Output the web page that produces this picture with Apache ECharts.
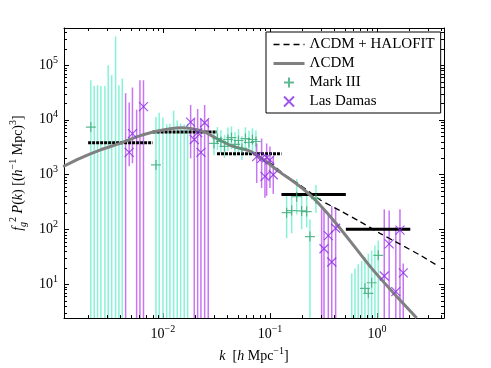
<!DOCTYPE html>
<html lang="en">
<head>
<meta charset="UTF-8">
<title>P(k)</title>
<script src="https://cdn.jsdelivr.net/npm/echarts@6/dist/echarts.min.js"></script>
<style>
    html, body { margin: 0; padding: 0; background: #fff; }
    #main { width: 491px; height: 368px; }
</style>
</head>
<body>
<div id="main"></div>
<script>
// axis ranges
var xMin = 0.00119, xMax = 4.23;
var yMin = 2.4, yMax = 474000;

// model curves
var lcdmK = [0.00117, 0.001675, 0.002576, 0.003963, 0.005675, 0.008111, 0.01162, 0.01505, 0.0199, 0.0247, 0.0318, 0.0451, 0.065, 0.0861, 0.1239, 0.178, 0.22, 0.281, 0.423, 0.622, 0.918, 1.47, 2.35];
var lcdmP = [1406, 1980, 2800, 3700, 4880, 6000, 6890, 7180, 6740, 5960, 4550, 3270, 2690, 1900, 1110, 675, 484, 306, 123, 47.4, 18.2, 6.47, 2.42];
var halofitK = [0.00117, 0.001675, 0.002576, 0.003963, 0.005675, 0.008111, 0.01162, 0.01505, 0.0199, 0.0247, 0.0318, 0.0451, 0.065, 0.0861, 0.1045, 0.138, 0.191, 0.293, 0.451, 0.693, 1.067, 1.641, 2.52, 3.72];
var halofitP = [1406, 1980, 2800, 3700, 4880, 6000, 6890, 7180, 6740, 5960, 4550, 3270, 2690, 1900, 1545, 980, 647, 348, 220, 139, 84.7, 53.7, 34.0, 21.5];

// band powers
var binEdges = [0.002, 0.008, 0.032, 0.128, 0.512, 2.048];
var binPower = [3800, 6000, 2410, 432, 101];
var binDotted = [true, true, true, false, false];

// Mark III (null = centre below the plot)
var mk3K  = [0.00212, 0.00228, 0.00245, 0.00263, 0.00287, 0.00308, 0.00332, 0.00361, 0.00388, 0.00417,
             0.00861, 0.00923, 0.01, 0.01083, 0.01162, 0.01259, 0.0136, 0.01463, 0.01581, 0.01702,
             0.03, 0.0323, 0.0348, 0.0376, 0.0405, 0.0437, 0.0471, 0.0508, 0.0547, 0.059, 0.0636, 0.0686, 0.074,
             0.1432, 0.1596, 0.1778, 0.1978, 0.2203, 0.2364, 0.269,
             0.581, 0.623, 0.668, 0.72, 0.772, 0.83, 0.892, 0.957, 1.028];
var mk3P  = [7380, null, null, null, null, null, null, null, null, null,
             1500, null, null, null, null, null, null, null, null, null,
             3700, 4550, 4020, 3270, 4370, 4740, 3550, 4190, 3000, 4550, 3850, 4370, 4020,
             202, 220, 394, 217, 211, 74, 362,
             null, null, null, null, 8.4, 6.8, 10.6, null, 33.6];
var mk3Lo = [1, 1, 1, 1, 1, 1, 1, 1, 1, 1,
             1, 1, 1, 1, 1, 1, 1, 1, 1, 1,
             2250, 2800, 2450, 2000, 2700, 2900, 2150, 2600, 1850, 2800, 2350, 2700, 2450,
             69, 85, 186, 100, 109, 1, 202,
             1, 1, 1, 1, 1, 1, 1, 1, 1];
var mk3Hi = [52600, 41500, 42800, 41500, 41500, 99000, 65000, 330000, 42800, 57000,
             11300, 13500, 11000, 8300, 8470, 14700, 9700, 8580, 8300, 8470,
             6100, 7400, 6500, 5300, 7200, 7600, 5900, 6800, 5000, 7300, 6300, 7000, 6400,
             464, 447, 830, 464, 410, 151, 647,
             15.7, 19.3, 23.1, 26.5, 31.3, 35.9, 41.3, 50.8, 62.5];

// Las Damas
var ldK  = [0.00448, 0.00484, 0.00519, 0.00568, 0.0061, 0.00658,
            0.01815, 0.01963, 0.0211, 0.02265, 0.02453, 0.0265,
            0.0752, 0.0836, 0.0898, 0.0931, 0.1, 0.1074,
            0.304, 0.32, 0.351, 0.378, 0.411,
            1.17, 1.3, 1.5, 1.64, 1.76];
var ldP  = [null, 2540, 5590, null, null, 17400,
            9090, 4370, 5840, 2540, 8830, null,
            2130, 1980, 929, 2040, 1850, 991,
            null, 44.2, 76.9, 25.4, 105,
            14.1, 54.3, 7.3, 97, 16.1];
var ldLo = [1, 1420, 1610, 1, 1, 1,
            1980, 1, 1, 1, 1, 1,
            703, 571, 378, 410, 571, 445,
            1, 1, 1, 1, 1,
            1, 1, 1, 1, 1];
var ldHi = [30600, 20800, 38800, 15300, 52600, 52600,
            18600, 10400, 15800, 10400, 18600, 10000,
            3700, 4550, 1980, 3700, 3270, 2150,
            267, 232, 189, 267, 249,
            232, 220, 109, 232, 23.7];

var serif = 'Liberation Serif, DejaVu Serif, serif';
var plusPath = 'path://M0,5L10,5M5,0L5,10';
var crossPath = 'path://M0,0L10,10M10,0L0,10';

function pairs(a, b) {
    var out = [];
    for (var i = 0; i < a.length; i++) {
        if (b[i] != null) out.push([a[i], b[i]]);
    }
    return out;
}

function powLabel(v) {
    var e = Math.log10(v);
    var r = Math.round(e);
    if (Math.abs(e - r) > 1e-6) return '';
    return '{b|10}{s|' + (r < 0 ? '\u2212' + (-r) : r) + '}';
}

var labelRich = {
    b: { fontFamily: serif, fontSize: 14, color: '#000', lineHeight: 20 },
    s: { fontFamily: serif, fontSize: 10, color: '#000', lineHeight: 10, verticalAlign: 'top' }
};
var nameRich = {
    i: { fontFamily: serif, fontSize: 14, fontStyle: 'italic', color: '#000', lineHeight: 20 },
    sup: { fontFamily: serif, fontSize: 10, color: '#000', lineHeight: 10, verticalAlign: 'top' },
    sub: { fontFamily: serif, fontSize: 10, fontStyle: 'italic', color: '#000', lineHeight: 10, verticalAlign: 'bottom' }
};

function errBars(ks, los, his, color) {
    var data = [];
    for (var i = 0; i < ks.length; i++) data.push([ks[i], los[i], his[i]]);
    return {
        type: 'custom', clip: true, silent: true, z: 1,
        encode: { x: 0, y: [1, 2] },
        data: data,
        renderItem: function (params, api) {
            var p1 = api.coord([api.value(0), api.value(1)]);
            var p2 = api.coord([api.value(0), api.value(2)]);
            return { type: 'line', shape: { x1: p1[0], y1: p1[1], x2: p2[0], y2: p2[1] },
                     style: { stroke: color, lineWidth: 1.5 } };
        }
    };
}

// minor tick positions (2..9 per decade)
var xMinor = [], yMinor = [];
for (var d = -3; d <= 0; d++) for (var m = 2; m <= 9; m++) {
    var v = m * Math.pow(10, d);
    if (v > xMin && v < xMax) xMinor.push([v, yMax]);
}
for (var d2 = 0; d2 <= 5; d2++) for (var m2 = 2; m2 <= 9; m2++) {
    var w = m2 * Math.pow(10, d2);
    if (w > yMin && w < yMax) yMinor.push([xMin, w]);
}

function minorTicks(data, horiz) {
    return {
        type: 'custom', silent: true, z: 6, data: data,
        renderItem: function (params, api) {
            var cs = params.coordSys;
            var p = api.coord([api.value(0), api.value(1)]);
            var st = { stroke: '#000', lineWidth: 1 };
            if (horiz) {
                var x = Math.round(p[0]) + 0.5, b = cs.y + cs.height, t = cs.y;
                return { type: 'group', children: [
                    { type: 'line', shape: { x1: x, y1: b, x2: x, y2: b - 3 }, style: st },
                    { type: 'line', shape: { x1: x, y1: t, x2: x, y2: t + 3 }, style: st }
                ] };
            }
            var y = Math.round(p[1]) + 0.5, l = cs.x, r = cs.x + cs.width;
            return { type: 'group', children: [
                { type: 'line', shape: { x1: l, y1: y, x2: l + 3, y2: y }, style: st },
                { type: 'line', shape: { x1: r, y1: y, x2: r - 3, y2: y }, style: st }
            ] };
        }
    };
}

var binData = [];
for (var b = 0; b < binPower.length; b++) binData.push([binEdges[b], binEdges[b + 1], binPower[b], binDotted[b] ? 1 : 0]);

var axisLine = { show: true, lineStyle: { color: '#000', width: 1 } };
var axisTick = { show: true, inside: true, length: 5, lineStyle: { color: '#000', width: 1 } };

var option = {
    animation: false,
    backgroundColor: '#fff',
    grid: { left: 64, right: 47, top: 28, bottom: 46 },
    legend: {
        data: [
            { name: '\u039bCDM + HALOFIT', itemStyle: { opacity: 0 }, lineStyle: { width: 1.3 } },
            { name: '\u039bCDM', itemStyle: { opacity: 0 }, lineStyle: { width: 3 } },
            'Mark III',
            'Las Damas'
        ],
        orient: 'vertical', left: 266, top: 32,
        itemWidth: 31, itemHeight: 10, itemGap: 4,
        padding: [5, 6, 4, 6],
        borderColor: '#000', borderWidth: 1, borderRadius: 0,
        backgroundColor: '#fff',
        textStyle: { fontFamily: serif, fontSize: 15, color: '#000' },
        selectedMode: false
    },
    xAxis: [{
        type: 'log', logBase: 10, min: xMin, max: xMax, position: 'bottom',
        axisLine: axisLine, axisTick: axisTick, splitLine: { show: false },
        axisLabel: { formatter: powLabel, rich: labelRich, margin: 6 },
        name: '{i|k}  [{i|h} Mpc{sup|\u22121}]', nameLocation: 'middle', nameGap: 27,
        nameTextStyle: { fontFamily: serif, fontSize: 14, color: '#000', rich: nameRich }
    }, {
        type: 'log', logBase: 10, min: xMin, max: xMax, position: 'top',
        axisLine: axisLine, axisTick: axisTick, splitLine: { show: false },
        axisLabel: { show: false }
    }],
    yAxis: [{
        type: 'log', logBase: 10, min: yMin, max: yMax, position: 'left',
        axisLine: axisLine, axisTick: axisTick, splitLine: { show: false },
        axisLabel: { formatter: powLabel, rich: labelRich, margin: 6 },
        name: '{i|f}{sub|g}{sup|2} {i|P}({i|k}) [({i|h}{sup|\u22121} Mpc){sup|3}]',
        nameLocation: 'middle', nameGap: 35,
        nameTextStyle: { fontFamily: serif, fontSize: 14, color: '#000', rich: nameRich }
    }, {
        type: 'log', logBase: 10, min: yMin, max: yMax, position: 'right',
        axisLine: axisLine, axisTick: axisTick, splitLine: { show: false },
        axisLabel: { show: false }
    }],
    series: [
        errBars(mk3K, mk3Lo, mk3Hi, '#86f3d6'),
        errBars(ldK, ldLo, ldHi, '#c874f5'),
        {
            type: 'custom', clip: true, silent: true, z: 3,
            encode: { x: [0, 1], y: 2 },
            data: binData,
            renderItem: function (params, api) {
                var p1 = api.coord([api.value(0), api.value(2)]);
                var p2 = api.coord([api.value(1), api.value(2)]);
                var st = { stroke: '#000', lineWidth: 3 };
                if (api.value(3)) st.lineDash = [3, 1];
                return { type: 'line', shape: { x1: p1[0], y1: p1[1], x2: p2[0], y2: p2[1] }, style: st };
            }
        },
        {
            name: '\u039bCDM + HALOFIT', type: 'line', z: 4, symbol: 'none', smooth: 0.2,
            lineStyle: { color: '#000', width: 1.3, type: [6, 4] }, itemStyle: { color: '#000' },
            data: pairs(halofitK, halofitP)
        },
        {
            name: '\u039bCDM', type: 'line', z: 4, symbol: 'none', smooth: 0.2,
            lineStyle: { color: '#808080', width: 3 }, itemStyle: { color: '#808080' },
            data: pairs(lcdmK, lcdmP)
        },
        {
            name: 'Mark III', type: 'scatter', z: 5, symbol: plusPath, symbolSize: 10,
            itemStyle: { color: 'none', borderColor: '#3aa876', borderWidth: 1.2 },
            emphasis: { disabled: true },
            data: pairs(mk3K, mk3P)
        },
        {
            name: 'Las Damas', type: 'scatter', z: 5, symbol: crossPath, symbolSize: 9,
            itemStyle: { color: 'none', borderColor: '#8a2be2', borderWidth: 1.2 },
            emphasis: { disabled: true },
            data: pairs(ldK, ldP)
        },
        minorTicks(xMinor, true),
        minorTicks(yMinor, false)
    ]
};

var myChart = echarts.init(document.getElementById('main'));
myChart.setOption(option);
</script>
</body>
</html>
